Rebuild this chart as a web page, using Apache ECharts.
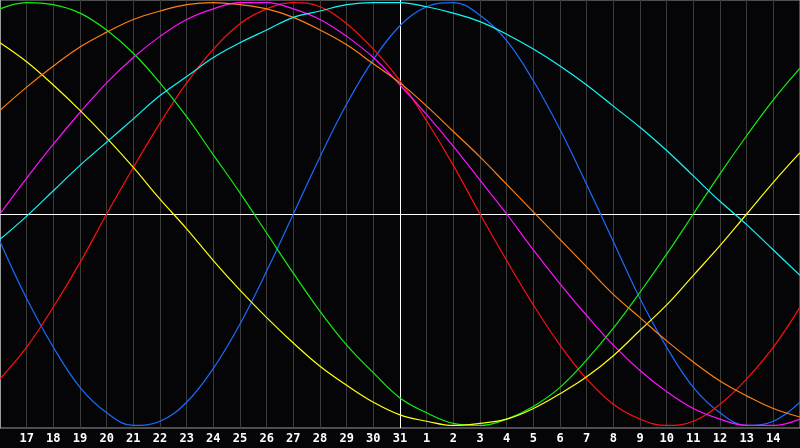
<!DOCTYPE html>
<html>
<head>
<meta charset="utf-8">
<script src="https://cdn.jsdelivr.net/npm/echarts@6/dist/echarts.min.js"></script>
<style>
  html, body { margin: 0; padding: 0; background: #050508; }
  #chart { width: 800px; height: 448px; }
</style>
</head>
<body>
<div id="chart"></div>
<script>
// Day labels for positions 1..29 (position 0 and 30 are the plot edges)
const dayLabels = ['17','18','19','20','21','22','23','24','25','26','27','28','29','30','31',
                   '1','2','3','4','5','6','7','8','9','10','11','12','13','14'];
const todayIndex = 15; // "31"

// Values at positions 0..30
const physical = [-0.13,-0.40,-0.63,-0.82,-0.94,-1.00,-0.98,-0.89,-0.73,-0.52,-0.27,0.00,0.27,0.52,0.73,0.89,0.98,1.00,0.94,0.82,0.63,0.40,0.14,-0.13,-0.40,-0.63,-0.82,-0.94,-1.00,-0.98,-0.89];
const emotional = [-0.78,-0.63,-0.44,-0.23,0.00,0.22,0.43,0.62,0.78,0.90,0.97,1.00,0.98,0.90,0.78,0.63,0.44,0.23,0.00,-0.22,-0.43,-0.62,-0.78,-0.90,-0.97,-1.00,-0.98,-0.90,-0.78,-0.63,-0.44];
const intellectual = [0.97,1.00,0.99,0.95,0.87,0.76,0.62,0.46,0.28,0.10,-0.09,-0.28,-0.46,-0.62,-0.75,-0.87,-0.94,-0.99,-1.00,-0.97,-0.91,-0.82,-0.69,-0.54,-0.37,-0.19,0.00,0.19,0.37,0.54,0.69];
const intuitive = [0.00,0.17,0.33,0.48,0.62,0.74,0.84,0.92,0.97,1.00,1.00,0.97,0.92,0.84,0.74,0.61,0.47,0.32,0.16,0.00,-0.17,-0.33,-0.48,-0.62,-0.74,-0.84,-0.92,-0.97,-1.00,-1.00,-0.97];
const aesthetic = [0.81,0.72,0.61,0.49,0.36,0.22,0.07,-0.07,-0.22,-0.36,-0.49,-0.61,-0.72,-0.81,-0.89,-0.95,-0.98,-1.00,-0.99,-0.97,-0.92,-0.85,-0.77,-0.67,-0.55,-0.43,-0.29,-0.15,0.00,0.15,0.29];
const awareness = [0.49,0.60,0.70,0.79,0.86,0.92,0.96,0.99,1.00,0.99,0.97,0.93,0.87,0.80,0.71,0.62,0.51,0.39,0.27,0.14,0.01,-0.12,-0.25,-0.38,-0.49,-0.60,-0.70,-0.79,-0.86,-0.92,-0.96];
const spiritual = [-0.12,-0.01,0.11,0.23,0.34,0.45,0.56,0.65,0.74,0.81,0.87,0.93,0.96,0.99,1.00,1.00,0.98,0.95,0.91,0.85,0.78,0.70,0.61,0.51,0.41,0.30,0.18,0.06,-0.05,-0.17,-0.29];

const seriesDefs = [
  { name: 'Physical', data: physical, color: '#1a6cff' },
  { name: 'Emotional', data: emotional, color: '#ff1010' },
  { name: 'Intellectual', data: intellectual, color: '#10f010' },
  { name: 'Intuitive', data: intuitive, color: '#ff10ff' },
  { name: 'Aesthetic', data: aesthetic, color: '#ffff10' },
  { name: 'Awareness', data: awareness, color: '#ff8010' },
  { name: 'Spiritual', data: spiritual, color: '#10f8f8' }
];

const chart = echarts.init(document.getElementById('chart'));
const series = seriesDefs.map((s, k) => ({
  name: s.name,
  type: 'line',
  data: s.data.map((v, i) => [i, v]),
  smooth: 0.4,
  showSymbol: false,
  symbol: 'none',
  lineStyle: { color: s.color, width: 1.2 },
  itemStyle: { color: s.color },
  z: 3,
  markLine: k === 0 ? {
    silent: true,
    symbol: 'none',
    label: { show: false },
    lineStyle: { color: '#ffffff', width: 1, type: 'solid' },
    data: [{ yAxis: 0 }, { xAxis: todayIndex }],
    z: 2
  } : undefined
}));

chart.setOption({
  animation: false,
  backgroundColor: '#050508',
  grid: {
    left: 0, right: 0, top: 0, bottom: 20,
    show: true,
    borderColor: '#9a9a9a',
    borderWidth: 1,
    backgroundColor: '#050508'
  },
  xAxis: {
    type: 'value',
    min: 0, max: 30, interval: 1,
    axisLine: { show: true, lineStyle: { color: '#a0a0a0', width: 1 } },
    axisTick: { show: false },
    splitLine: { show: true, lineStyle: { color: '#3c3c3c', width: 1 } },
    axisLabel: {
      color: '#ffffff',
      fontFamily: 'DejaVu Sans Mono',
      fontWeight: 'bold',
      fontSize: 12,
      margin: 5,
      showMinLabel: false,
      showMaxLabel: false,
      formatter: v => dayLabels[v - 1] || ''
    }
  },
  yAxis: {
    type: 'value',
    min: -1.012, max: 1.012,
    axisLine: { show: true, lineStyle: { color: '#9a9a9a' } },
    axisTick: { show: false },
    axisLabel: { show: false },
    splitLine: { show: false }
  },
  series: series
});
</script>
</body>
</html>
